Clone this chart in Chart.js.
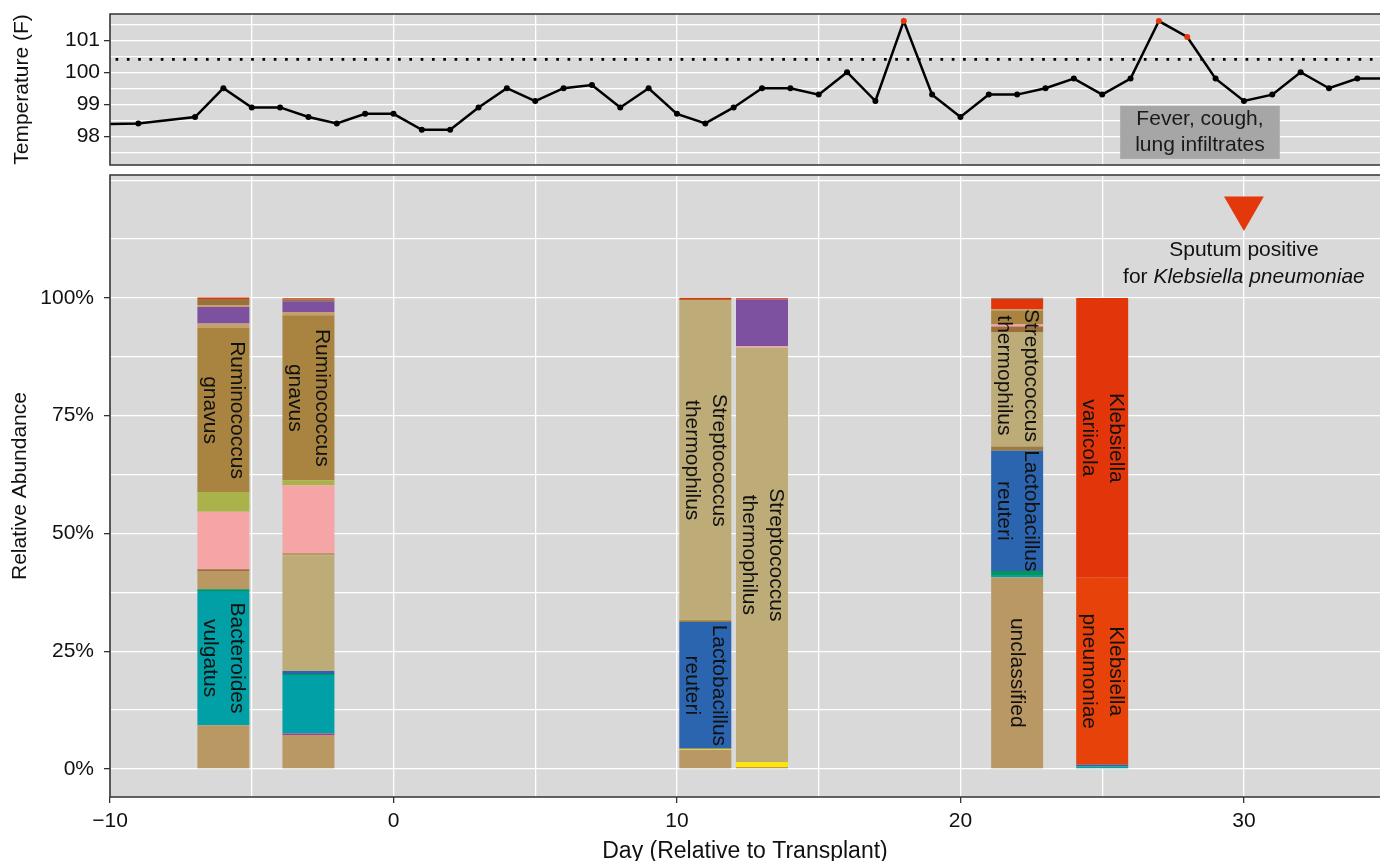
<!DOCTYPE html>
<html>
<head>
<meta charset="utf-8">
<title>Temperature and stool microbiota around transplant</title>
<script src="https://cdn.jsdelivr.net/npm/chart.js@4"></script>
<style>
  body { margin: 0; background: #fff; }
  #tempBox { position: absolute; left: 0; top: 0; width: 1380px; height: 170px; }
  #abundBox { position: absolute; left: 0; top: 170px; width: 1380px; height: 691px; }
</style>
</head>
<body>
<div id="tempBox"><canvas id="tempChart"></canvas></div>
<div id="abundBox"><canvas id="abundChart"></canvas></div>
<script>
// temperature (F) by day relative to transplant
const tempDays = [-11, -9, -7, -6, -5, -4, -3, -2, -1, 0, 1, 2, 3, 4, 5, 6, 7, 8, 9, 10, 11, 12, 13, 14,
  15, 16, 17, 18, 19, 20, 21, 22, 23, 24, 25, 26, 27, 28, 29, 30, 31, 32, 33, 34, 35];
const tempValues = [98.36, 98.4, 98.6, 99.5, 98.9, 98.9, 98.6, 98.4, 98.7, 98.7, 98.2, 98.2, 98.9, 99.5,
  99.1, 99.5, 99.6, 98.9, 99.5, 98.7, 98.4, 98.9, 99.5, 99.5, 99.3, 100.0, 99.1, 101.6, 99.3, 98.6,
  99.3, 99.3, 99.5, 99.8, 99.3, 99.8, 101.6, 101.1, 99.8, 99.1, 99.3, 100.0, 99.5, 99.8, 99.8];
const feverThreshold = 100.4;
const tempTicks = [98, 99, 100, 101];

// stool samples, relative abundance (%) per taxon, stacked bottom to top
const barDays = [-6, -3, 11, 13, 22, 25];
const unclassified = [9.3, 7.2, 4.1, 0.4, 40.7, 0];
const minorYellow = [0, 0, 0.2, 1.05, 0, 0];
const minorMagenta = [0, 0.35, 0, 0, 0, 0];
const bacteroidesVulgatus = [28.5, 12.4, 0, 0, 0.5, 0.5];
const minorGreen = [0.35, 0.2, 0, 0, 0.85, 0];
const lactobacillusReuteri = [0, 0.65, 26.9, 0, 25.5, 0.4];
const minorDarkTan = [0, 0, 0.35, 0, 0.9, 0];
const streptococcusThermophilus = [0, 24.5, 68.0, 88.0, 24.2, 0];
const minorTan = [3.9, 0.55, 0, 0, 0, 0];
const minorBrown = [0.35, 0, 0.2, 0, 1.3, 0];
const minorPink = [12.2, 14.4, 0, 0.3, 0.4, 0];
const minorOlive = [4.2, 1.05, 0, 0, 0, 0];
const ruminococcusGnavus = [34.8, 35.0, 0, 0, 3.0, 0];
const minorLightTan = [1.0, 0.7, 0, 0, 0, 0];
const minorPurple = [3.5, 2.3, 0, 9.9, 0, 0];
const minorPaleTan = [0.4, 0, 0, 0, 0.3, 0];
const minorDarkBrown = [1.3, 0.35, 0, 0, 0, 0];
const klebsiellaPneumoniae = [0, 0, 0, 0, 0, 39.7];
const klebsiellaVariicola = [0.3, 0.3, 0.3, 0.3, 2.1, 59.4];
const minorGray = [0, 0, 0, 0, 0.3, 0];

const layers = [
  { name: 'unclassified', values: unclassified },
  { name: 'other 1', values: minorYellow },
  { name: 'other 2', values: minorMagenta },
  { name: 'Bacteroides vulgatus', values: bacteroidesVulgatus },
  { name: 'other 3', values: minorGreen },
  { name: 'Lactobacillus reuteri', values: lactobacillusReuteri },
  { name: 'other 4', values: minorDarkTan },
  { name: 'Streptococcus thermophilus', values: streptococcusThermophilus },
  { name: 'other 5', values: minorTan },
  { name: 'other 6', values: minorBrown },
  { name: 'other 7', values: minorPink },
  { name: 'other 8', values: minorOlive },
  { name: 'Ruminococcus gnavus', values: ruminococcusGnavus },
  { name: 'other 9', values: minorLightTan },
  { name: 'other 10', values: minorPurple },
  { name: 'other 11', values: minorPaleTan },
  { name: 'other 12', values: minorDarkBrown },
  { name: 'Klebsiella pneumoniae', values: klebsiellaPneumoniae },
  { name: 'Klebsiella variicola', values: klebsiellaVariicola },
  { name: 'other 13', values: minorGray },
];

// which segments get a name written in them (nudge in % points)
const barLabels = [
  { day: -6, taxon: 'Ruminococcus gnavus' },
  { day: -6, taxon: 'Bacteroides vulgatus' },
  { day: -3, taxon: 'Ruminococcus gnavus' },
  { day: 11, taxon: 'Streptococcus thermophilus' },
  { day: 11, taxon: 'Lactobacillus reuteri' },
  { day: 13, taxon: 'Streptococcus thermophilus' },
  { day: 22, taxon: 'Streptococcus thermophilus', nudge: 3 },
  { day: 22, taxon: 'Lactobacillus reuteri' },
  { day: 22, taxon: 'unclassified' },
  { day: 25, taxon: 'Klebsiella variicola' },
  { day: 25, taxon: 'Klebsiella pneumoniae' },
];

const abundanceTicks = [0, 25, 50, 75, 100];
const dayTicks = [-10, 0, 10, 20, 30];
const sputumDay = 30;
const sputumMarkerY = 119.1;
const sputumTextY = 110.2;
const feverNote = { day: 28.45, temp: 98.12, lines: ['Fever, cough,', 'lung infiltrates'] };

// styles
const fontFamily = "'Liberation Sans', Arial, Helvetica, sans-serif";
const panelColor = '#d9d9d9';
const red = '#e3380c';
const layerColors = {
  'unclassified': '#b99864',
  'other 1': '#ffe600',
  'other 2': '#a0409a',
  'Bacteroides vulgatus': '#00a0a6',
  'other 3': '#00965a',
  'Lactobacillus reuteri': '#2b64af',
  'other 4': '#9c7a40',
  'Streptococcus thermophilus': '#beac78',
  'other 5': '#b99864',
  'other 6': '#9c6e3a',
  'other 7': '#f5a5a5',
  'other 8': '#aab24a',
  'Ruminococcus gnavus': '#a88440',
  'other 9': '#c4a06e',
  'other 10': '#7d50a0',
  'other 11': '#c8a070',
  'other 12': '#96733c',
  'Klebsiella pneumoniae': '#e6420a',
  'Klebsiella variicola': '#e2360a',
  'other 13': '#8a8a8a',
};
const xMin = -10, xMax = 34.8;

Chart.defaults.font.family = fontFamily;
Chart.defaults.font.size = 21;
Chart.defaults.color = '#111';

const panelPlugin = {
  id: 'panel',
  beforeDraw(chart) {
    const { ctx, chartArea: a } = chart;
    ctx.save();
    ctx.fillStyle = panelColor;
    ctx.fillRect(a.left, a.top, a.right - a.left, a.bottom - a.top);
    ctx.restore();
  },
  afterDraw(chart) {
    const { ctx, chartArea: a } = chart;
    ctx.save();
    ctx.strokeStyle = '#333';
    ctx.lineWidth = 1.6;
    ctx.beginPath();
    ctx.moveTo(a.right + 2, a.top);
    ctx.lineTo(a.left, a.top);
    ctx.lineTo(a.left, a.bottom);
    ctx.lineTo(a.right + 2, a.bottom);
    ctx.stroke();
    ctx.restore();
  }
};

const feverNotePlugin = {
  id: 'feverNote',
  afterDatasetsDraw(chart) {
    const { ctx, scales } = chart;
    const cx = scales.x.getPixelForValue(feverNote.day);
    const cy = scales.y.getPixelForValue(feverNote.temp);
    const gap = 26;
    ctx.save();
    ctx.font = `21px ${fontFamily}`;
    const w = Math.max(...feverNote.lines.map(t => ctx.measureText(t).width)) + 30;
    const h = gap * feverNote.lines.length + 1;
    ctx.fillStyle = '#a6a6a6';
    ctx.fillRect(cx - w / 2, cy - h / 2, w, h);
    ctx.fillStyle = '#1a1a1a';
    ctx.textAlign = 'center';
    ctx.textBaseline = 'middle';
    feverNote.lines.forEach((t, k) => {
      ctx.fillText(t, cx, cy + (k - (feverNote.lines.length - 1) / 2) * gap);
    });
    ctx.restore();
  }
};

const barLabelPlugin = {
  id: 'barLabels',
  afterDatasetsDraw(chart) {
    const ctx = chart.ctx;
    const yScale = chart.scales.y;
    const gap = 27;
    ctx.save();
    ctx.font = `21px ${fontFamily}`;
    ctx.fillStyle = '#111';
    ctx.textAlign = 'center';
    ctx.textBaseline = 'middle';
    barLabels.forEach(item => {
      const dsIndex = layers.findIndex(l => l.name === item.taxon);
      const el = chart.getDatasetMeta(dsIndex).data[barDays.indexOf(item.day)];
      if (!el) return;
      const shift = item.nudge ? yScale.getPixelForValue(item.nudge) - yScale.getPixelForValue(0) : 0;
      const lines = item.taxon.split(' ');
      ctx.save();
      ctx.translate(el.x, (el.y + el.base) / 2 + shift);
      ctx.rotate(Math.PI / 2);
      lines.forEach((t, k) => ctx.fillText(t, 0, (k - (lines.length - 1) / 2) * gap));
      ctx.restore();
    });
    ctx.restore();
  }
};

const sputumPlugin = {
  id: 'sputum',
  afterDatasetsDraw(chart) {
    const { ctx, scales } = chart;
    const cx = scales.x.getPixelForValue(sputumDay);
    const y1 = scales.y.getPixelForValue(sputumTextY);
    const y2 = y1 + 27;
    ctx.save();
    ctx.fillStyle = '#111';
    ctx.textBaseline = 'middle';
    ctx.textAlign = 'center';
    ctx.font = `21px ${fontFamily}`;
    ctx.fillText('Sputum positive', cx, y1);
    const a = 'for ';
    const b = 'Klebsiella pneumoniae';
    const wa = ctx.measureText(a).width;
    ctx.font = `italic 21px ${fontFamily}`;
    const wb = ctx.measureText(b).width;
    const x0 = cx - (wa + wb) / 2;
    ctx.textAlign = 'left';
    ctx.font = `21px ${fontFamily}`;
    ctx.fillText(a, x0, y2);
    ctx.font = `italic 21px ${fontFamily}`;
    ctx.fillText(b, x0 + wa, y2);
    ctx.restore();
  }
};

const gridStyle = (isMajor) => ({
  color: '#fff',
  lineWidth: 1.3,
  tickLength: 6,
  tickWidth: 1.3,
  tickColor: c => (c.tick && isMajor(c.tick.value)) ? '#333' : 'rgba(0,0,0,0)',
});

// fixed axis width, and no extra room for the end labels
const fitYAxis = s => {
  s.width = 110;
  s.paddingTop = 0;
  s.paddingBottom = 0;
};

// top panel: temperature
new Chart(document.getElementById('tempChart'), {
  type: 'line',
  data: {
    datasets: [
      {
        label: 'Temperature',
        data: tempDays.map((d, i) => ({ x: d, y: tempValues[i] })),
        borderColor: '#000',
        borderWidth: 2.5,
        pointRadius: 3,
        pointBorderWidth: 0,
        pointBackgroundColor: c => (c.raw && c.raw.y > feverThreshold) ? red : '#000',
        tension: 0,
      },
      {
        label: 'Fever threshold',
        data: [{ x: xMin - 1, y: feverThreshold }, { x: xMax + 1, y: feverThreshold }],
        borderColor: '#000',
        borderWidth: 2.7,
        borderDash: [2.7, 8.6],
        pointRadius: 0,
      },
    ],
  },
  options: {
    responsive: true,
    maintainAspectRatio: false,
    animation: false,
    layout: { autoPadding: false, padding: { top: 14, bottom: 5, left: 0, right: 0 } },
    plugins: { legend: { display: false }, tooltip: { enabled: false } },
    scales: {
      x: {
        type: 'linear', min: xMin, max: xMax,
        afterFit: s => { s.height = 0; s.paddingLeft = 0; s.paddingRight = 0; },
        ticks: { display: false, stepSize: 5, autoSkip: false, includeBounds: false },
        grid: { color: '#fff', lineWidth: 1.3, drawTicks: false },
        border: { display: false },
      },
      y: {
        min: 97.1, max: 101.82,
        afterFit: fitYAxis,
        ticks: {
          stepSize: 0.5, autoSkip: false, includeBounds: false, padding: 4,
          callback: v => tempTicks.includes(v) ? String(v) : '',
        },
        grid: gridStyle(v => tempTicks.includes(v)),
        border: { display: false },
        title: { display: true, text: 'Temperature (F)', padding: { top: 10, bottom: 0 } },
      },
    },
  },
  plugins: [panelPlugin, feverNotePlugin],
});

// bottom panel: relative abundance
const barDatasets = layers.map(l => ({
  type: 'bar',
  label: l.name,
  data: barDays.map((d, i) => ({ x: d, y: l.values[i] || null })),
  backgroundColor: layerColors[l.name],
  borderWidth: 0,
  categoryPercentage: 1,
  barPercentage: 0.917,
}));

new Chart(document.getElementById('abundChart'), {
  type: 'bar',
  data: {
    datasets: [
      ...barDatasets,
      {
        type: 'line',
        label: 'Sputum culture',
        stack: 'marker',
        data: [{ x: sputumDay, y: sputumMarkerY }],
        showLine: false,
        pointStyle: 'triangle',
        rotation: 180,
        pointRadius: 23,
        pointBorderWidth: 0,
        pointBackgroundColor: red,
      },
    ],
  },
  options: {
    responsive: true,
    maintainAspectRatio: false,
    animation: false,
    layout: { autoPadding: false, padding: { top: 5, bottom: 0, left: 0, right: 0 } },
    plugins: { legend: { display: false }, tooltip: { enabled: false } },
    scales: {
      x: {
        type: 'linear', min: xMin, max: xMax, stacked: true, offset: false,
        afterFit: s => { s.height = 64; s.paddingRight = 0; },
        ticks: {
          stepSize: 5, autoSkip: false, includeBounds: false, maxRotation: 0, padding: 6,
          callback: v => dayTicks.includes(v) ? (v < 0 ? '\u2212' + Math.abs(v) : String(v)) : '',
        },
        grid: { ...gridStyle(v => dayTicks.includes(v)), offset: false },
        border: { display: false },
        title: {
          display: true, text: 'Day (Relative to Transplant)',
          font: { size: 23, lineHeight: 0.8 }, padding: 0,
        },
      },
      y: {
        min: -5.95, max: 126.1, stacked: true,
        afterFit: fitYAxis,
        ticks: {
          stepSize: 12.5, autoSkip: false, includeBounds: false, padding: 10,
          callback: v => abundanceTicks.includes(v) ? v + '%' : '',
        },
        grid: gridStyle(v => abundanceTicks.includes(v)),
        border: { display: false },
        title: { display: true, text: 'Relative Abundance', padding: { top: 8, bottom: 0 } },
      },
    },
  },
  plugins: [panelPlugin, barLabelPlugin, sputumPlugin],
});
</script>
</body>
</html>
